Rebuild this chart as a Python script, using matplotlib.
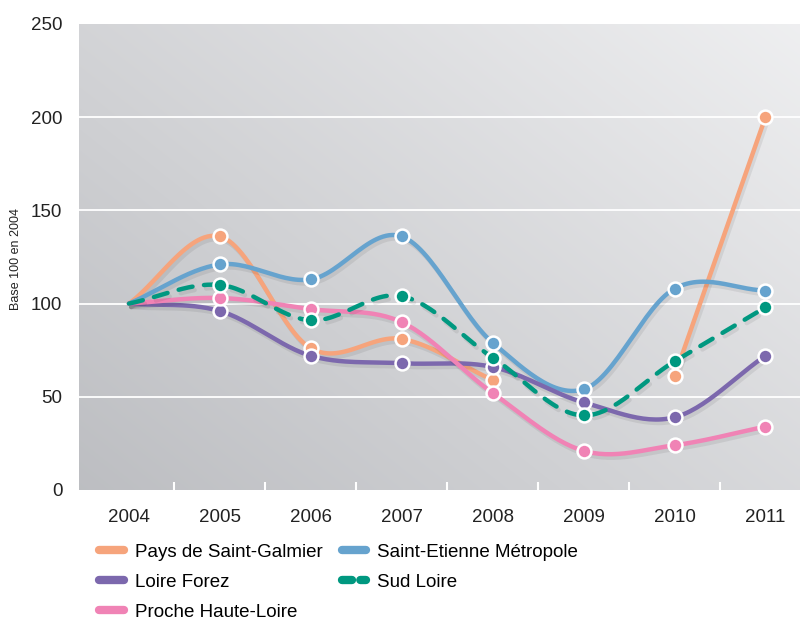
import numpy as np
import matplotlib
matplotlib.use("Agg")
import matplotlib.pyplot as plt
from matplotlib.lines import Line2D
import matplotlib.patheffects as pe

plt.rcParams['font.family'] = ['Liberation Sans', 'DejaVu Sans']

years = [2004, 2005, 2006, 2007, 2008, 2009, 2010, 2011]

# values (base 100 in 2004), None = no value
saint_galmier = [100, 136, 76, 81, 59, None, 61, 200]
saint_etienne = [100, 121, 113, 136, 79, 54, 108, 107]
sud_loire = [100, 110, 91, 104, 71, 40, 69, 98]
loire_forez = [100, 96, 72, 68, 66, 47, 39, 72]
haute_loire = [100, 103, 97, 90, 52, 21, 24, 34]

c_orange = '#F6A47C'
c_blue = '#66A3CE'
c_green = '#009880'
c_purple = '#7C68AD'
c_pink = '#F083B5'


def smooth(xs, ys, n=30):
    """Catmull-Rom curve through the points (like a spreadsheet smoothed line)."""
    xs = np.asarray(xs, float)
    ys = np.asarray(ys, float)
    if len(xs) < 3:
        return xs, ys
    px = np.concatenate([[2 * xs[0] - xs[1]], xs, [2 * xs[-1] - xs[-2]]])
    py = np.concatenate([[2 * ys[0] - ys[1]], ys, [2 * ys[-1] - ys[-2]]])
    outx, outy = [], []
    t = np.linspace(0, 1, n)
    for i in range(1, len(px) - 2):
        for p, out in ((px, outx), (py, outy)):
            p0, p1, p2, p3 = p[i - 1], p[i], p[i + 1], p[i + 2]
            out.extend(0.5 * ((2 * p1) + (-p0 + p2) * t
                              + (2 * p0 - 5 * p1 + 4 * p2 - p3) * t ** 2
                              + (-p0 + 3 * p1 - 3 * p2 + p3) * t ** 3))
    return np.array(outx), np.array(outy)


fig = plt.figure(figsize=(8.02, 6.23), dpi=100)
ax = fig.add_axes([0.0985, 0.2135, 0.899, 0.748])

xmin, xmax = 2003.45, 2011.38
ax.set_xlim(xmin, xmax)
ax.set_ylim(0, 250)

# grey gradient background, darker towards bottom-left
gx, gy = np.meshgrid(np.linspace(0, 1, 200), np.linspace(0, 1, 200))
g = 0.55 * gx + 0.45 * gy
dark = np.array([0.74, 0.745, 0.76])
light = np.array([0.935, 0.937, 0.943])
img = dark + g[..., None] * (light - dark)
ax.imshow(img, extent=[0, 1, 0, 1], transform=ax.transAxes, origin='lower',
          aspect='auto', zorder=0, interpolation='bilinear')

for v in [50, 100, 150, 200]:
    ax.axhline(v, color='white', lw=1.3, zorder=1)

shadow = [pe.SimpleLineShadow(offset=(1.5, -2.5), shadow_color='black', alpha=0.07),
          pe.Normal()]

series = [
    ('Pays de Saint-Galmier', saint_galmier, c_orange, '-'),
    ('Saint-Etienne Métropole', saint_etienne, c_blue, '-'),
    ('Loire Forez', loire_forez, c_purple, '-'),
    ('Proche Haute-Loire', haute_loire, c_pink, '-'),
    ('Sud Loire', sud_loire, c_green, '--'),
]

for name, vals, col, ls in series:
    # split into runs where values exist
    runs, cur = [], []
    for x, v in zip(years, vals):
        if v is None:
            if cur:
                runs.append(cur)
            cur = []
        else:
            cur.append((x, v))
    if cur:
        runs.append(cur)
    for run in runs:
        rx = [r[0] for r in run]
        ry = [r[1] for r in run]
        sx, sy = smooth(rx, ry)
        kw = dict(color=col, lw=3.2, zorder=3, solid_capstyle='round',
                  path_effects=shadow)
        if ls == '--':
            kw.update(dashes=(3.2, 2.6), dash_capstyle='round')
        ax.plot(sx, sy, **kw)
    mx = [x for x, v in zip(years, vals) if v is not None]
    my = [v for v in vals if v is not None]
    ax.plot(mx[1:], my[1:], 'o', ms=10, mfc=col, mec='white', mew=1.8, zorder=4,
            ls='none')

ax.set_xticks(years)
ax.set_xticklabels([str(y) for y in years], fontsize=13.5, color='#222222')
ax.set_xticks([y + 0.5 for y in years[:-1]], minor=True)
ax.tick_params(axis='x', which='major', length=0, pad=14)
ax.tick_params(axis='x', which='minor', direction='in', length=6, width=1.5,
               color='white')
ax.set_yticks([0, 50, 100, 150, 200, 250])
ax.tick_params(axis='y', length=0, labelsize=13.5, labelcolor='#222222', pad=12)
for s in ax.spines.values():
    s.set_visible(False)

fig.text(0.02, 0.585, 'Base 100 en 2004', rotation=90, fontsize=9,
         va='center', ha='center', color='#222222')

handles = [
    Line2D([], [], color=c_orange, lw=6, solid_capstyle='round'),
    Line2D([], [], color=c_purple, lw=6, solid_capstyle='round'),
    Line2D([], [], color=c_pink, lw=6, solid_capstyle='round'),
    Line2D([], [], color=c_blue, lw=6, solid_capstyle='round'),
    Line2D([], [], color=c_green, lw=6, dashes=(1.2, 1.0), dash_capstyle='round'),
]
labels = ['Pays de Saint-Galmier', 'Loire Forez', 'Proche Haute-Loire',
          'Saint-Etienne Métropole', 'Sud Loire']
fig.legend(handles, labels, loc='upper left', bbox_to_anchor=(0.124, 0.127),
           ncol=2, frameon=False, fontsize=13.5, handlelength=1.3,
           handletextpad=0.6, columnspacing=1.0, labelspacing=0.68,
           borderaxespad=0, borderpad=0)

fig.savefig('out.png', dpi=100)
